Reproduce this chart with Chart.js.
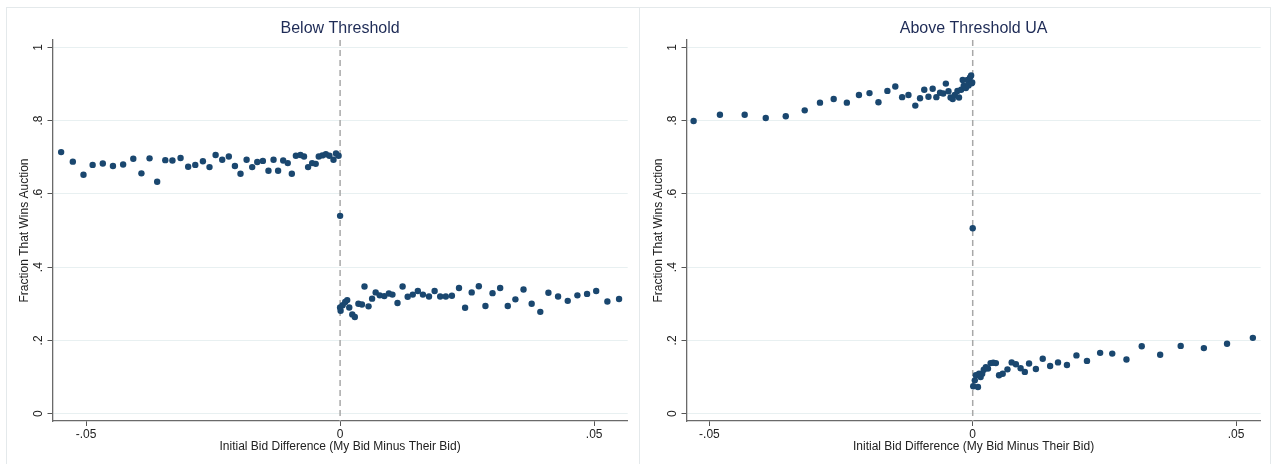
<!DOCTYPE html>
<html>
<head>
<meta charset="utf-8">
<script src="https://cdn.jsdelivr.net/npm/chart.js@4/dist/chart.umd.min.js"></script>
<style>
  body { margin:0; background:#fff; }
  #wrap { position:relative; width:1275px; height:464px; overflow:hidden; }
  canvas { position:absolute; top:0; }
  .ln { position:absolute; background:#e4e9eb; }
</style>
</head>
<body>
<div id="wrap">
  <div class="ln" style="left:6px;top:7px;width:1265px;height:1px"></div>
  <div class="ln" style="left:6px;top:7px;width:1px;height:457px"></div>
  <div class="ln" style="left:639px;top:7px;width:1px;height:457px"></div>
  <div class="ln" style="left:1270px;top:7px;width:1px;height:457px"></div>
  <canvas id="below" width="633" height="464" style="left:6px"></canvas>
  <canvas id="above" width="631" height="464" style="left:640px"></canvas>
</div>
<script>
// =======================
// Data
// =======================
const belowX = [-0.0549,-0.0526,-0.0505,-0.0487,-0.0467,-0.0447,-0.0427,-0.0407,-0.0391,-0.0375,-0.0360,-0.0344,-0.0330,-0.0314,-0.0299,-0.0285,-0.0270,-0.0257,-0.0245,-0.0232,-0.0219,-0.0207,-0.0196,-0.0184,-0.0173,-0.0163,-0.0152,-0.0141,-0.0131,-0.0122,-0.0112,-0.0103,-0.0095,-0.0087,-0.0078,-0.0071,-0.0063,-0.0055,-0.0048,-0.0042,-0.0035,-0.0028,-0.0021,-0.0013,-0.0008,-0.0003,
  0,
  0.0000,0.0001,0.0005,0.0010,0.0014,0.0018,0.0024,0.0029,0.0036,0.0043,0.0048,0.0056,0.0063,0.0070,0.0078,0.0087,0.0096,0.0103,0.0113,0.0123,0.0133,0.0143,0.0153,0.0163,0.0175,0.0186,0.0197,0.0208,0.0220,0.0234,0.0246,0.0259,0.0273,0.0286,0.0300,0.0315,0.0330,0.0345,0.0361,0.0377,0.0394,0.0410,0.0429,0.0448,0.0467,0.0486,0.0504,0.0526,0.0549];
const belowY = [0.714,0.688,0.652,0.679,0.683,0.676,0.680,0.696,0.656,0.697,0.633,0.692,0.691,0.698,0.674,0.679,0.689,0.673,0.706,0.693,0.702,0.676,0.655,0.693,0.673,0.687,0.690,0.663,0.693,0.663,0.691,0.684,0.655,0.704,0.706,0.702,0.673,0.684,0.682,0.702,0.705,0.708,0.704,0.693,0.710,0.704,
  0.540,
  0.290,0.281,0.296,0.305,0.310,0.290,0.271,0.264,0.300,0.298,0.347,0.293,0.314,0.331,0.323,0.321,0.328,0.325,0.302,0.347,0.319,0.325,0.335,0.325,0.320,0.335,0.320,0.320,0.322,0.343,0.289,0.331,0.348,0.294,0.329,0.343,0.294,0.312,0.339,0.300,0.278,0.330,0.320,0.308,0.323,0.327,0.335,0.306,0.313];

const aboveX = [-0.0530,-0.0480,-0.0433,-0.0393,-0.0355,-0.0319,-0.0290,-0.0264,-0.0239,-0.0216,-0.0196,-0.0179,-0.0162,-0.0147,-0.0134,-0.0122,-0.0109,-0.0100,-0.0092,-0.0084,-0.0076,-0.0069,-0.0062,-0.0056,-0.0051,-0.0046,-0.0042,-0.0038,-0.0034,-0.0029,-0.0026,-0.0022,-0.0019,-0.0017,-0.0013,-0.0010,-0.0008,-0.0005,-0.0003,-0.0002,-0.0001,
  0,
  0.0001,0.0004,0.0006,0.0010,0.0012,0.0015,0.0018,0.0021,0.0025,0.0029,0.0034,0.0039,0.0044,0.0050,0.0057,0.0066,0.0074,0.0082,0.0091,0.0099,0.0107,0.0120,0.0133,0.0147,0.0162,0.0179,0.0197,0.0217,0.0242,0.0265,0.0292,0.0321,0.0356,0.0395,0.0439,0.0483,0.0532];
const aboveY = [0.799,0.816,0.816,0.807,0.812,0.828,0.849,0.859,0.849,0.870,0.875,0.850,0.881,0.893,0.864,0.870,0.841,0.861,0.884,0.865,0.887,0.864,0.876,0.874,0.901,0.880,0.863,0.859,0.870,0.881,0.863,0.884,0.911,0.895,0.889,0.911,0.896,0.918,0.923,0.902,0.904,
  0.506,
  0.075,0.091,0.105,0.073,0.109,0.100,0.109,0.120,0.127,0.123,0.138,0.139,0.138,0.105,0.109,0.121,0.140,0.135,0.124,0.114,0.137,0.122,0.150,0.130,0.140,0.133,0.159,0.144,0.166,0.164,0.148,0.184,0.161,0.185,0.179,0.191,0.207];

const xTickStep = 0.05;
const yTickStep = 0.2;
const cutoff = 0;

// =======================
// Helpers
// =======================
Chart.defaults.font.family = "'Liberation Sans', Arial, sans-serif";
Chart.defaults.color = '#222';

function stataLabel(v) {
  const r = Math.round(v * 1000) / 1000;
  if (r === 0) return '0';
  return String(r).replace(/^(-?)0\./, '$1.');
}

function toPoints(xs, ys) {
  return xs.map((x, i) => ({ x: x, y: ys[i] }));
}

// dashed line at the cutoff + rotated y tick labels
const panelExtras = {
  id: 'panelExtras',
  beforeDatasetsDraw(chart) {
    const { ctx, chartArea, scales } = chart;
    const px = scales.x.getPixelForValue(cutoff);
    ctx.save();
    ctx.strokeStyle = '#a8a8a8';
    ctx.lineWidth = 1.5;
    ctx.setLineDash([6, 4]);
    ctx.beginPath();
    ctx.moveTo(px, chartArea.top);
    ctx.lineTo(px, chartArea.bottom);
    ctx.stroke();
    ctx.restore();
  },
  afterDraw(chart) {
    const { ctx, chartArea, scales } = chart;
    ctx.save();
    ctx.fillStyle = '#222';
    ctx.font = "12px 'Liberation Sans', Arial, sans-serif";
    ctx.textAlign = 'center';
    ctx.textBaseline = 'middle';
    scales.y.ticks.forEach(t => {
      const py = scales.y.getPixelForValue(t.value);
      ctx.save();
      ctx.translate(chartArea.left - 14, py);
      ctx.rotate(-Math.PI / 2);
      ctx.fillText(stataLabel(t.value), 0, 0);
      ctx.restore();
    });
    ctx.restore();
  }
};

function makePanel(id, title, xs, ys, xMin, xMax, padRight) {
  const ctx = document.getElementById(id).getContext('2d');
  return new Chart(ctx, {
    type: 'scatter',
    data: {
      datasets: [{
        data: toPoints(xs, ys),
        backgroundColor: '#1a476f',
        borderWidth: 0,
        pointRadius: 3.2,
        pointHoverRadius: 3.2
      }]
    },
    options: {
      responsive: false,
      animation: false,
      devicePixelRatio: 1,
      layout: { padding: { left: 0, right: padRight, top: 0, bottom: 0 } },
      plugins: {
        legend: { display: false },
        tooltip: { enabled: false },
        title: {
          display: true,
          text: title,
          fullSize: false,
          color: '#1e2b56',
          font: { size: 16, weight: 'normal', lineHeight: 1.2 },
          padding: { top: 18.7, bottom: 2.1 }
        }
      },
      scales: {
        x: {
          type: 'linear',
          min: xMin, max: xMax,
          afterFit: s => { s.height = 43; },
          ticks: { stepSize: xTickStep, includeBounds: false, padding: 1, font: { size: 12 }, color: '#222', callback: v => stataLabel(v), maxRotation: 0 },
          grid: { drawOnChartArea: false, drawTicks: true, tickLength: 5, tickColor: '#555', tickWidth: 1 },
          border: { display: true, color: '#6a6a6a', width: 1.3 },
          title: { display: true, text: 'Initial Bid Difference (My Bid Minus Their Bid)', font: { size: 12, lineHeight: 1.2 }, color: '#222', padding: { top: 0, bottom: 9.8 } }
        },
        y: {
          type: 'linear',
          min: -0.02, max: 1.02,
          afterFit: s => { s.width = 46.5; },
          ticks: { stepSize: yTickStep, includeBounds: false, display: false },
          grid: { color: '#e8f0f1', lineWidth: 1, drawTicks: true, tickLength: 5, tickColor: '#555', tickWidth: 1 },
          border: { display: true, color: '#6a6a6a', width: 1.3 },
          title: { display: true, text: 'Fraction That Wins Auction', font: { size: 12, lineHeight: 1.2 }, color: '#222', padding: { top: 11.6, bottom: 0 } }
        }
      }
    },
    plugins: [panelExtras]
  });
}

makePanel('below', 'Below Threshold', belowX, belowY, -0.0566, 0.0566, 11.3);
makePanel('above', 'Above Threshold UA', aboveX, aboveY, -0.05435, 0.05469, 10.3);
</script>
</body>
</html>
